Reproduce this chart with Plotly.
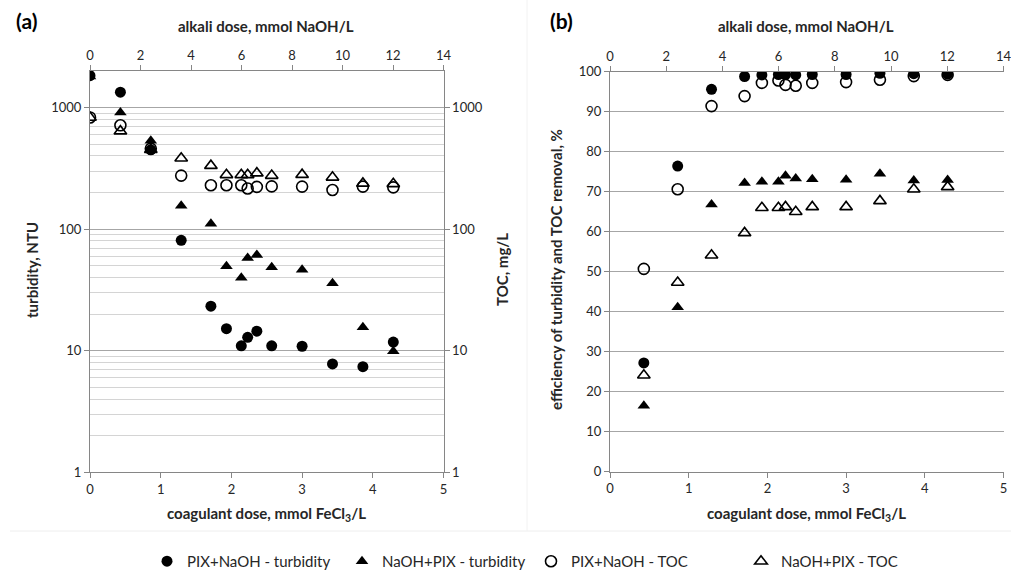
import plotly.graph_objects as go

# ---------------- data ----------------
coag_dose = [0, 0.43, 0.86, 1.29, 1.71, 1.93, 2.14, 2.23, 2.36, 2.57, 3.00, 3.43, 3.86, 4.29]
alkali_dose = [0, 1.2, 2.4, 3.6, 4.8, 5.4, 6.0, 6.25, 6.6, 7.2, 8.4, 9.6, 10.8, 12.0]

turb_pix_naoh = [1830, 1340, 450, 81, 23.3, 15.2, 11.0, 12.9, 14.5, 11.0, 10.9, 7.8, 7.4, 11.8]
turb_naoh_pix = [1800, 910, 535, 156, 111, 49.7, 39.8, 58, 61.5, 48.7, 46.4, 35.9, 15.6, 9.9]
toc_pix_naoh = [830, 715, 460, 276, 230, 230, 230, 216, 223, 225, 224, 210, 224, 221]
toc_naoh_pix = [830, 640, 450, 383, 333, 280, 280, 280, 289, 276, 281, 267, 238, 236]

coag_dose_b = [0.43, 0.86, 1.29, 1.71, 1.93, 2.14, 2.23, 2.36, 2.57, 3.00, 3.43, 3.86, 4.29]
alkali_dose_b = [1.2, 2.4, 3.6, 4.8, 5.4, 6.0, 6.25, 6.6, 7.2, 8.4, 9.6, 10.8, 12.0]
eff_turb_pix_naoh = [27.2, 76.4, 95.6, 98.8, 99.2, 99.3, 99.3, 99.2, 99.3, 99.3, 99.6, 99.5, 99.4]
eff_turb_naoh_pix = [16.5, 41.1, 66.8, 72.2, 72.5, 72.5, 74.0, 73.3, 73.1, 73.0, 74.5, 72.8, 72.9]
eff_toc_pix_naoh = [50.7, 70.6, 91.4, 93.9, 97.2, 97.8, 96.7, 96.5, 97.2, 97.4, 98.0, 98.9, 99.2]
eff_toc_naoh_pix = [24.1, 47.3, 54.1, 59.7, 66.0, 66.0, 66.2, 65.0, 66.2, 66.2, 67.7, 70.6, 71.2]

series_names = ["PIX+NaOH - turbidity", "NaOH+PIX - turbidity", "PIX+NaOH - TOC", "NaOH+PIX - TOC"]

log_ticks = [1, 10, 100, 1000]
log_minor = [m * 10 ** e for e in range(0, 4) for m in range(2, 10) if m * 10 ** e <= 2000]

# ---------------- style ----------------
FONT = "Lato"
TXT = "#262626"
AX = "#868686"
GRID = "#a6a6a6"
MINOR = "#d4d4d4"

W, H = 1011, 570
def px(x): return x / W
def py(y): return 1 - y / H

dom_xa = [px(90), px(443.5)]
dom_ya = [py(472.4), py(71)]
dom_xb = [px(610), px(1003.5)]
dom_yb = [py(471.7), py(71.7)]

styles = {
    series_names[0]: dict(symbol="circle", size=11, color="black"),
    series_names[1]: dict(symbol="triangle-up", size=11, color="black"),
    series_names[2]: dict(symbol="circle-open", size=11, color="black", line=dict(width=1.6, color="black")),
    series_names[3]: dict(symbol="triangle-up-open", size=11, color="black", line=dict(width=1.6, color="black")),
}
legend_ids = {series_names[0]: "legend", series_names[1]: "legend2",
              series_names[2]: "legend3", series_names[3]: "legend4"}
legend_marker_x = [169, 364, 553, 763]

fig = go.Figure()

# invisible traces so that the secondary (alkali dose) axes are drawn
fig.add_trace(go.Scatter(x=alkali_dose, y=turb_pix_naoh, mode="markers", showlegend=False,
                         marker=dict(opacity=0), hoverinfo="skip", xaxis="x2", yaxis="y"))
fig.add_trace(go.Scatter(x=alkali_dose_b, y=eff_turb_pix_naoh, mode="markers", showlegend=False,
                         marker=dict(opacity=0), hoverinfo="skip", xaxis="x4", yaxis="y3"))

# panel (a): TOC first (drawn beneath), turbidity on top
for vals, nm, ya in [(toc_pix_naoh, series_names[2], "y2"), (toc_naoh_pix, series_names[3], "y2"),
                     (turb_pix_naoh, series_names[0], "y"), (turb_naoh_pix, series_names[1], "y")]:
    fig.add_trace(go.Scatter(x=coag_dose, y=vals, mode="markers", name=nm, marker=styles[nm],
                             xaxis="x", yaxis=ya, legend=legend_ids[nm]))

# panel (b)
for vals, nm in [(eff_toc_pix_naoh, series_names[2]), (eff_toc_naoh_pix, series_names[3]),
                 (eff_turb_pix_naoh, series_names[0]), (eff_turb_naoh_pix, series_names[1])]:
    fig.add_trace(go.Scatter(x=coag_dose_b, y=vals, mode="markers", name=nm, showlegend=False,
                             marker=styles[nm], xaxis="x3", yaxis="y3"))

tickfont = dict(family=FONT, size=13, color=TXT)
common = dict(showline=True, linecolor=AX, linewidth=1, ticks="outside", ticklen=5,
              tickcolor=AX, tickfont=tickfont, zeroline=False, mirror=False,
              ticklabeloverflow="allow")

log_axis = dict(type="log", range=[0, 3.30103], tickmode="array", tickvals=log_ticks,
                ticktext=[str(v) for v in log_ticks],
                minor=dict(tickmode="array", tickvals=log_minor, showgrid=True,
                           gridcolor=MINOR, gridwidth=1, ticks=""))

leg_common = dict(orientation="h", y=-0.014, yanchor="bottom", xanchor="left",
                  font=dict(family=FONT, size=15, color=TXT), bgcolor="rgba(0,0,0,0)",
                  borderwidth=0, itemclick=False)

fig.update_layout(
    width=W, height=H,
    margin=dict(l=0, r=0, t=0, b=0, autoexpand=False),
    paper_bgcolor="white", plot_bgcolor="white",
    font=dict(family=FONT, color=TXT),
    xaxis=dict(domain=dom_xa, anchor="y", range=[0, 5], dtick=1, showgrid=False, **common),
    xaxis2=dict(overlaying="x", side="top", anchor="y", range=[0, 14], dtick=2,
                showgrid=False, **common),
    yaxis=dict(domain=dom_ya, anchor="x", showgrid=True, gridcolor=GRID, **log_axis, **common),
    yaxis2=dict(overlaying="y", side="right", anchor="x", showgrid=False, **log_axis, **common),
    xaxis3=dict(domain=dom_xb, anchor="y3", range=[0, 5], dtick=1, showgrid=False, **common),
    xaxis4=dict(overlaying="x3", side="top", anchor="y3", range=[0, 14], dtick=2,
                showgrid=False, **common),
    yaxis3=dict(domain=dom_yb, anchor="x3", range=[0, 100], dtick=10, showgrid=True,
                gridcolor=GRID, **common),
    legend=dict(x=px(legend_marker_x[0] - 22), **leg_common),
    legend2=dict(x=px(legend_marker_x[1] - 22), **leg_common),
    legend3=dict(x=px(legend_marker_x[2] - 22), **leg_common),
    legend4=dict(x=px(legend_marker_x[3] - 22), **leg_common),
    showlegend=True,
    shapes=[
        dict(type="line", xref="paper", yref="paper", x0=px(10), x1=1, y0=py(531), y1=py(531),
             line=dict(color="#eeeeee", width=1)),
        dict(type="line", xref="paper", yref="paper", x0=px(527), x1=px(527), y0=py(531), y1=1,
             line=dict(color="#f2f2f2", width=1)),
    ],
)

bold = dict(family=FONT, size=15, color=TXT)
ann = [
    dict(text="<b>(a)</b>", x=px(26), y=py(20), font=dict(family=FONT, size=21, color="black")),
    dict(text="<b>(b)</b>", x=px(561), y=py(20), font=dict(family=FONT, size=21, color="black")),
    dict(text="<b>alkali dose, mmol NaOH/L</b>", x=px(266), y=py(26), font=bold),
    dict(text="<b>alkali dose, mmol NaOH/L</b>", x=px(806), y=py(26), font=bold),
    dict(text="<b>coagulant dose, mmol FeCl<sub>3</sub>/L</b>", x=px(266), y=py(514), font=bold),
    dict(text="<b>coagulant dose, mmol FeCl<sub>3</sub>/L</b>", x=px(806), y=py(514), font=bold),
    dict(text="<b>turbidity, NTU</b>", x=px(32), y=py(270), textangle=-90, font=bold),
    dict(text="<b>TOC, mg/L</b>", x=px(502), y=py(270), textangle=-90, font=bold),
    dict(text="<b>efficiency of turbidity and TOC removal, %</b>", x=px(556), y=py(270),
         textangle=-90, font=bold),
]
for a in ann:
    a.update(xref="paper", yref="paper", showarrow=False, xanchor="center", yanchor="middle")
fig.update_layout(annotations=ann)

fig.write_html("out.html", config={"displayModeBar": False},
               post_script="document.body.style.margin='0px';document.body.style.overflow='hidden';")
